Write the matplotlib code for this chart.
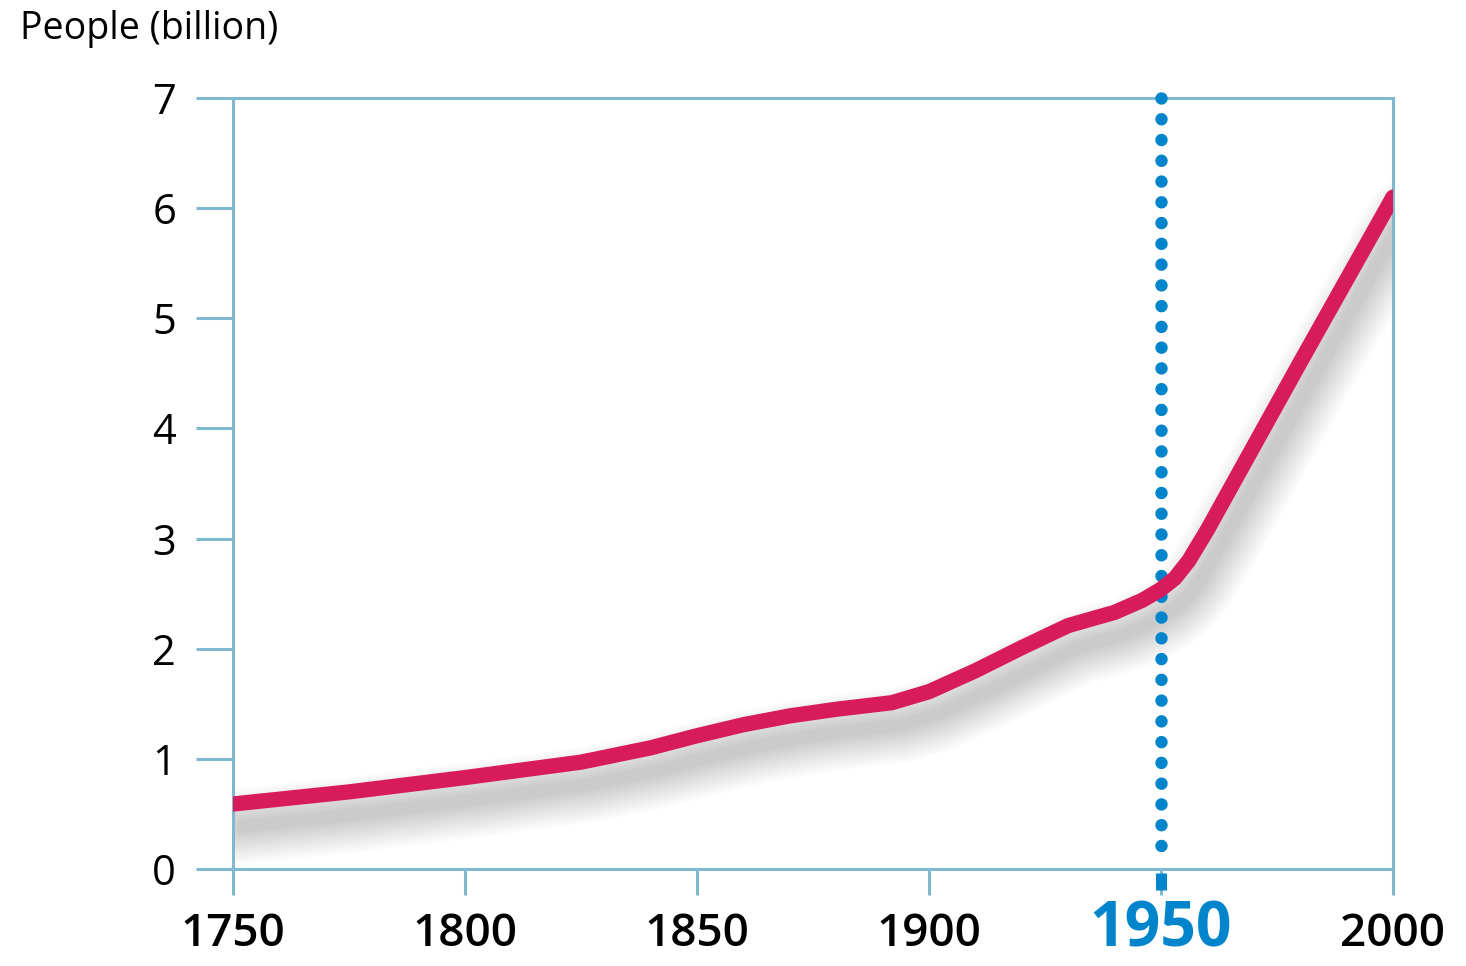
import matplotlib
matplotlib.use("Agg")
import matplotlib.pyplot as plt
import matplotlib.transforms as mtransforms

years = [1750, 1775, 1800, 1825, 1840, 1850, 1860, 1870, 1880, 1892, 1900, 1910,
         1920, 1930, 1940, 1946, 1950, 1953, 1956, 1960, 1970, 1980, 1990, 2000]
people = [0.59, 0.70, 0.83, 0.97, 1.10, 1.21, 1.31, 1.39, 1.45, 1.51, 1.61, 1.80,
          2.01, 2.21, 2.33, 2.44, 2.54, 2.64, 2.80, 3.08, 3.84, 4.60, 5.35, 6.10]
x_ticks = [1750, 1800, 1850, 1900, 1950, 2000]
x_labels = ["1750", "1800", "1850", "1900", "1950", "2000"]
y_ticks = [0, 1, 2, 3, 4, 5, 6, 7]
y_labels = ["0", "1", "2", "3", "4", "5", "6", "7"]
highlight_year = 1950
y_title = "People (billion)"

FONT = ["Open Sans", "DejaVu Sans"]
SPINE = "#80b8d1"
LINE = "#d81b5b"
BLUE = "#0085cc"

fig = plt.figure(figsize=(14.66, 9.66), dpi=100)
ax = fig.add_axes([233 / 1466, 97 / 966, 1160 / 1466, 771 / 966])
ax.set_xlim(1750, 2000)
ax.set_ylim(0, 7)

for s in ax.spines.values():
    s.set_color(SPINE)
    s.set_linewidth(2.2)

ax.set_xticks(x_ticks)
ax.set_xticklabels([("" if yr == highlight_year else lab) for yr, lab in zip(x_ticks, x_labels)],
                   fontfamily=FONT, fontsize=33, fontweight="semibold")
ax.set_yticks(y_ticks)
ax.set_yticklabels(y_labels, fontfamily=FONT, fontsize=30)
ax.tick_params(axis="x", length=19, width=2.2, color=SPINE, pad=12)
ax.tick_params(axis="y", length=27, width=2.2, color=SPINE, pad=14)

# highlighted tick label
ax.annotate(x_labels[x_ticks.index(highlight_year)], xy=(highlight_year, 0),
            xycoords=("data", "axes fraction"), xytext=(0, -56),
            textcoords="offset points", ha="center", va="baseline",
            fontfamily=FONT, fontsize=45, fontweight="bold", color=BLUE,
            annotation_clip=False)

# blurred shadow
n = 26
for i in range(n):
    off = mtransforms.offset_copy(ax.transData, fig=fig, x=10, y=-22, units="dots")
    ax.plot(years, people, color="#000000", alpha=0.008, lw=8 + i * 1.9,
            solid_capstyle="round", solid_joinstyle="round", transform=off, zorder=2)

# dotted highlight line
ax.plot([highlight_year, highlight_year], [7.0, 0.03], color=BLUE, lw=9,
        linestyle=(0, (0.001, 1.66)), dash_capstyle="round", zorder=3, clip_on=False)
ax.plot([highlight_year, highlight_year], [-0.04, -0.19], color=BLUE, lw=8,
        clip_on=False, zorder=3, solid_capstyle="butt")

ax.plot(years, people, color=LINE, lw=11, solid_capstyle="round",
        solid_joinstyle="round", zorder=4)

fig.text(20 / 1466, 1 - 10 / 966, y_title, fontfamily=FONT, fontsize=27,
         va="top", ha="left")

fig.savefig("out.png", dpi=100, facecolor="white")
